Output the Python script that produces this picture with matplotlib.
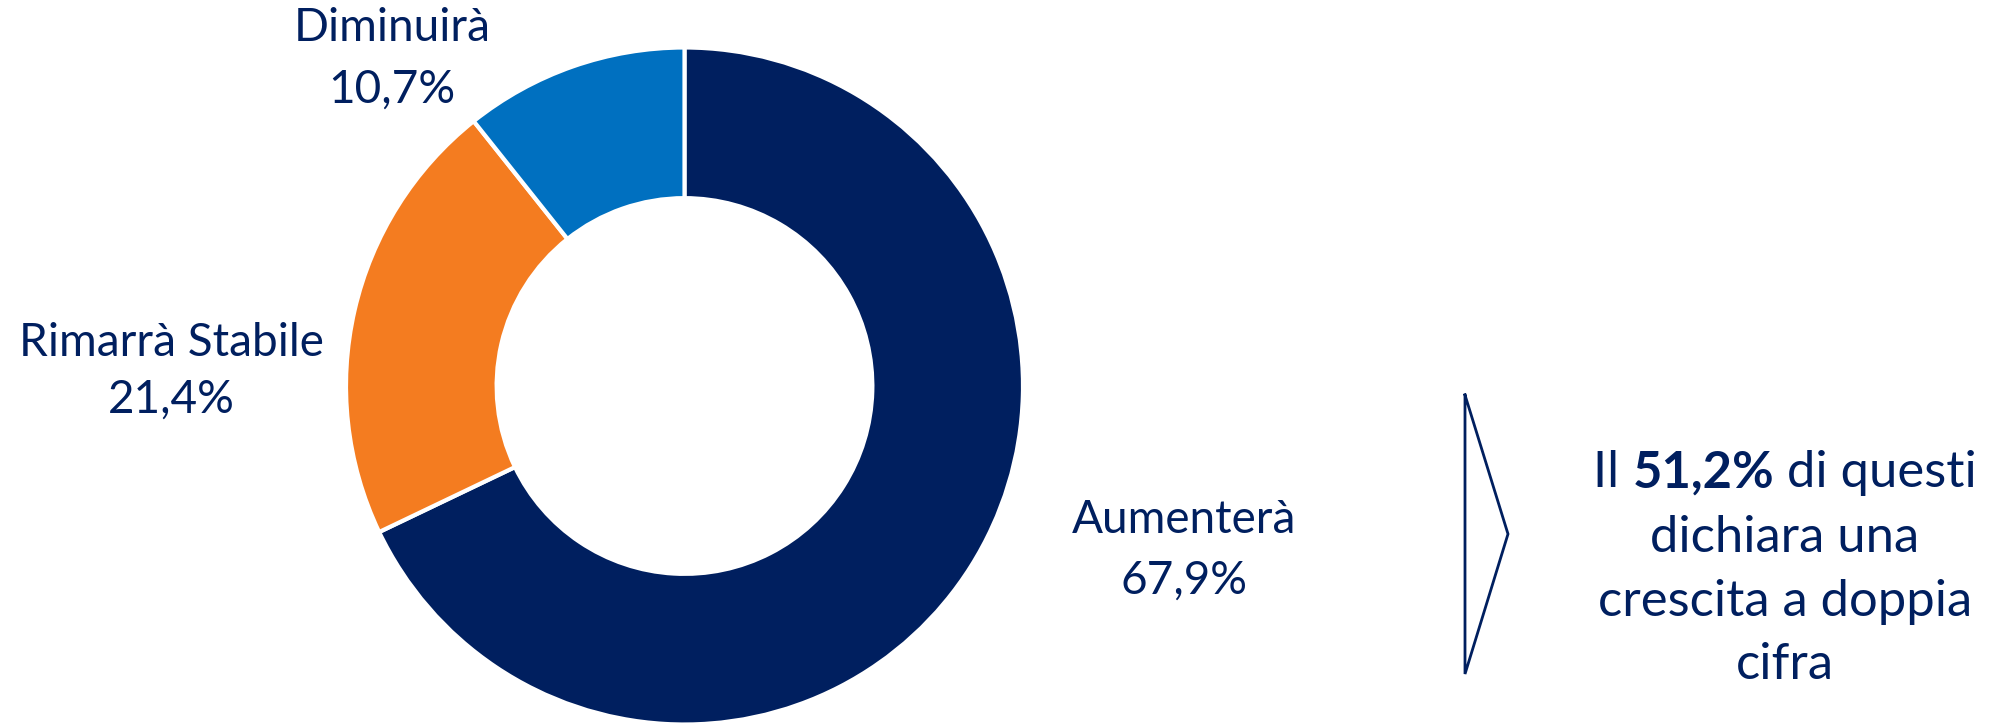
import matplotlib
matplotlib.use("Agg")
import matplotlib.pyplot as plt

# data
labels = ["Aumenterà", "Rimarrà Stabile", "Diminuirà"]
values = [67.9, 21.4, 10.7]
colors = ["#001F5F", "#F47C20", "#0070C0"]
value_labels = ["67,9%", "21,4%", "10,7%"]
note_lines = ["dichiara una", "crescita a doppia", "cifra"]
note_bold = "51,2%"

NAVY = "#001F5F"
plt.rcParams["font.family"] = ["Lato", "DejaVu Sans"]

W, H = 2005, 723
fig = plt.figure(figsize=(W / 100, H / 100), dpi=100)
ax = fig.add_axes([0, 0, 1, 1])

cx, cy, r = 684.5, H - 386, 338.5
ax.pie(values, colors=colors, startangle=90, counterclock=False,
       center=(cx, cy), radius=r,
       wedgeprops=dict(width=r * 0.445, edgecolor="white", linewidth=3))
ax.set_xlim(0, W)
ax.set_ylim(0, H)
ax.set_aspect("equal")
ax.axis("off")

# slice labels (name, value)
label_pos = [(1184, 520, 581), (171, 343, 400), (392, 28, 90)]
for name, val, (x, y1, y2) in zip(labels, value_labels, label_pos):
    ax.text(x, H - y1, name, ha="center", va="center", fontsize=33, color=NAVY)
    ax.text(x, H - y2, val, ha="center", va="center", fontsize=33, color=NAVY)

# arrow outline
ax.plot([1465, 1465, 1508, 1465], [H - 395, H - 674, H - 534, H - 395],
        color=NAVY, lw=2, solid_joinstyle="miter")

# note text, first line with bold part
fs = 36.5
tx = 1785
line_y = [473, 538, 602, 665]
renderer = fig.canvas.get_renderer()
parts = [("Il ", "normal"), (note_bold, "bold"), (" di questi", "normal")]
objs = []
for s, w in parts:
    t = ax.text(0, H - line_y[0], s, ha="left", va="center", fontsize=fs,
                color=NAVY, fontweight=w)
    objs.append(t)
widths = [t.get_window_extent(renderer).width for t in objs]
x0 = tx - sum(widths) / 2
for t, wd in zip(objs, widths):
    t.set_x(x0)
    x0 += wd
for s, y in zip(note_lines, line_y[1:]):
    ax.text(tx, H - y, s, ha="center", va="center", fontsize=fs, color=NAVY)

fig.savefig("out.png", dpi=100)
